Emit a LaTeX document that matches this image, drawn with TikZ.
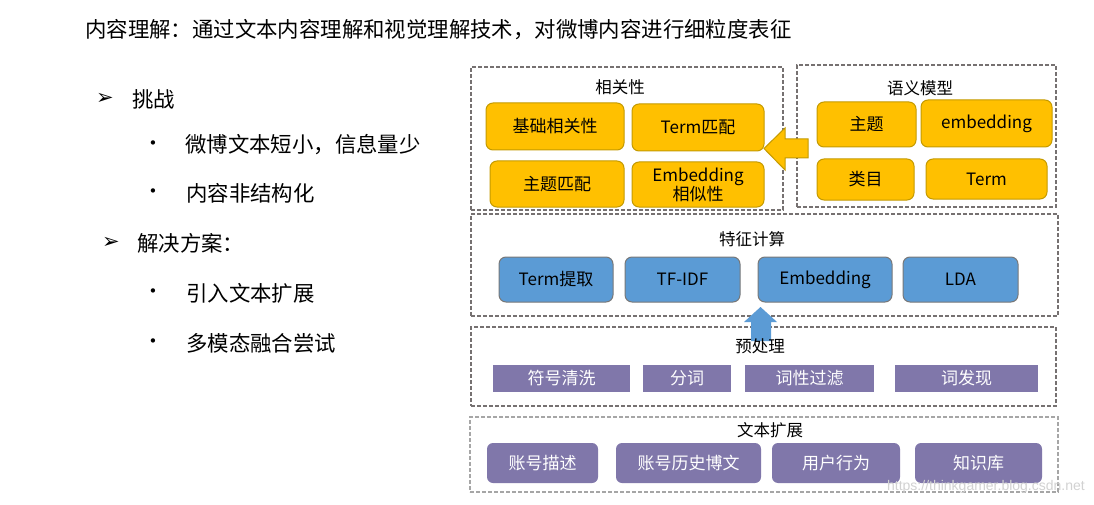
\documentclass[tikz,border=0pt]{standalone}
\usepackage{fontspec}
\newfontfamily\cjk{Noto Sans CJK SC}
\newfontfamily\dejavu{DejaVu Sans}
\newfontfamily\wmfont{Liberation Sans}
\definecolor{yel}{RGB}{255,192,0}
\definecolor{ybord}{RGB}{196,154,0}
\definecolor{blu}{RGB}{91,155,213}
\definecolor{bbord}{RGB}{120,120,120}
\definecolor{pur}{RGB}{128,119,170}
\definecolor{framegray}{RGB}{118,113,113}
\definecolor{framelight}{RGB}{166,166,166}
\begin{document}
\begin{tikzpicture}[x=1pt,y=-1pt,
  frame/.style={draw=framegray, line width=1.4pt, dash pattern=on 4pt off 2pt, inner sep=0pt},
  ttl/.style={font=\cjk\fontsize{16.5}{20}\selectfont, inner sep=0pt},
  boxtxt/.style={inner sep=0pt, align=center, font=\cjk\fontsize{17}{20}\selectfont},
  ybox/.style={boxtxt, draw=ybord, fill=yel, rounded corners=7pt, line width=1pt},
  bbox/.style={boxtxt, draw=bbord, fill=blu, rounded corners=7pt, line width=1pt},
  pbox/.style={boxtxt, fill=pur, text=white},
  prbox/.style={pbox, rounded corners=6pt},
  lefttxt/.style={font=\cjk\fontsize{21.4}{24}\selectfont, inner sep=0pt, anchor=west},
  arr/.style={font=\dejavu\fontsize{21}{21}\selectfont, inner sep=0pt},
  dot/.style={font=\dejavu\fontsize{15}{15}\selectfont, inner sep=0pt}
]
\useasboundingbox (0,0) rectangle (1094,505);
\fill[white] (0,0) rectangle (1094,505);

% title
\node[font=\cjk\fontsize{21.4}{26}\selectfont, inner sep=0pt, anchor=west] (title) at (85,30) {内容理解：通过文本内容理解和视觉理解技术，对微博内容进行细粒度表征};

% left list
\node[arr] (a1) at (105,99) {➢};
\node[lefttxt] (l1) at (132,99) {挑战};
\node[dot] (d1) at (153,145) {•};
\node[lefttxt] (l2) at (185,145) {微博文本短小，信息量少};
\node[dot] (d2) at (153,193) {•};
\node[lefttxt] (l3) at (186,193) {内容非结构化};
\node[arr] (a2) at (111,243) {➢};
\node[lefttxt] (l4) at (137,243) {解决方案：};
\node[dot] (d3) at (153,293) {•};
\node[lefttxt] (l5) at (186,293) {引入文本扩展};
\node[dot] (d4) at (153,343) {•};
\node[lefttxt] (l6) at (186,343) {多模态融合尝试};

% relevance frame
\node[frame, minimum width=312pt, minimum height=143pt] (rel) at (627,138.5) {};
\node[ttl] (relt) at (620,87) {相关性};
\node[ybox, minimum width=138pt, minimum height=47pt] (r1) at (555,126.5) {基础相关性};
\node[ybox, minimum width=132pt, minimum height=47pt] (r2) at (698,127.5) {Term匹配};
\node[ybox, minimum width=134pt, minimum height=46pt] (r3) at (557,184) {主题匹配};
\node[ybox, minimum width=132pt, minimum height=45pt, font=\cjk\fontsize{17}{19}\selectfont] (r4) at (698,184.5) {Embedding\\相似性};

% semantic model frame
\node[frame, minimum width=259pt, minimum height=142pt] (sem) at (926.5,136) {};
\node[ttl] (semt) at (920,88) {语义模型};
\node[ybox, minimum width=99pt, minimum height=45pt] (s1) at (866.5,124.5) {主题};
\node[ybox, minimum width=131pt, minimum height=47pt] (s2) at (986.5,123.5) {embedding};
\node[ybox, minimum width=97pt, minimum height=41pt] (s3) at (865.5,179.5) {类目};
\node[ybox, minimum width=121pt, minimum height=40pt] (s4) at (986.5,179) {Term};

% yellow block arrow
\draw[ybord, fill=yel, line width=1pt, line join=miter]
  (808,139) -- (785,139) -- (785,128) -- (764,148.5) -- (785,170) -- (785,158) -- (808,158) -- cycle;

% feature frame
\node[frame, minimum width=587pt, minimum height=102pt] (feat) at (764.5,265) {};
\node[ttl] (featt) at (752,239) {特征计算};
\node[bbox, minimum width=114pt, minimum height=45pt] (f1) at (556,279.5) {Term提取};
\node[bbox, minimum width=115pt, minimum height=45pt] (f2) at (682.5,279.5) {TF-IDF};
\node[bbox, minimum width=134pt, minimum height=45pt] (f3) at (825,279.5) {Embedding};
\node[bbox, minimum width=115pt, minimum height=45pt] (f4) at (960.5,279.5) {LDA};

% preprocessing frame
\node[frame, minimum width=585pt, minimum height=79pt] (pre) at (763.5,366.5) {};
% blue arrow
\fill[blu] (751,341) -- (751,322) -- (744,322) -- (760.5,307) -- (777,322) -- (771,322) -- (771,341) -- cycle;
\node[ttl] (pret) at (760,346) {预处理};
\node[pbox, minimum width=137pt, minimum height=27pt] (p1) at (561.5,378.5) {符号清洗};
\node[pbox, minimum width=88pt, minimum height=27pt] (p2) at (687,378.5) {分词};
\node[pbox, minimum width=129pt, minimum height=27pt] (p3) at (809.5,378.5) {词性过滤};
\node[pbox, minimum width=143pt, minimum height=27pt] (p4) at (966.5,378) {词发现};

% text expansion frame
\node[frame, draw=framelight, minimum width=588pt, minimum height=75pt] (ext) at (764,454.5) {};
\node[ttl] (extt) at (770,430) {文本扩展};
\node[prbox, minimum width=111pt, minimum height=40pt] (e1) at (542.5,463) {账号描述};
\node[prbox, minimum width=145pt, minimum height=40pt] (e2) at (688.5,463) {账号历史博文};
\node[prbox, minimum width=128pt, minimum height=40pt] (e3) at (836,463) {用户行为};
\node[prbox, minimum width=127pt, minimum height=40pt] (e4) at (978.5,463) {知识库};

% watermark
\node[font=\wmfont\fontsize{14}{14}\selectfont, text=gray!35, inner sep=0pt, anchor=east] (wm) at (1085,487) {https://thinkgamer.blog.csdn.net};
\end{tikzpicture}
\end{document}
